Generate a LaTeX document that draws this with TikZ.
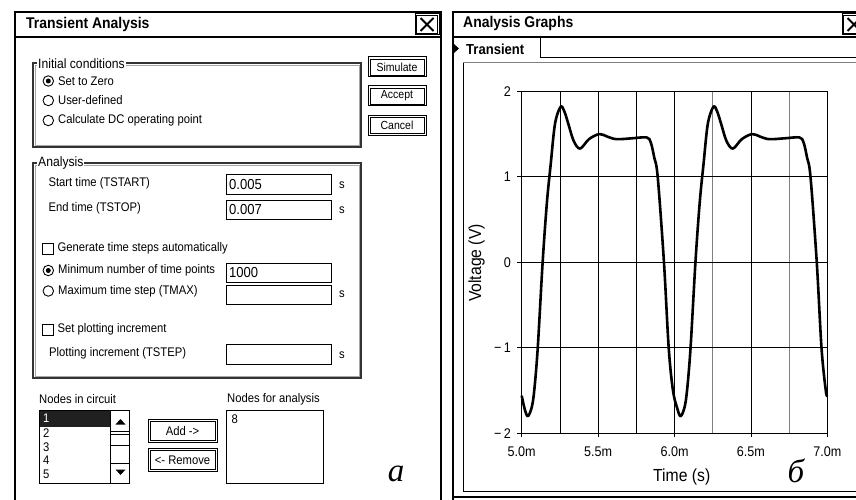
\documentclass[tikz,border=0pt]{standalone}
\usepackage{fontspec}
\setmainfont[FakeStretch=0.9]{Liberation Sans}
\newfontfamily\cyrserif{Liberation Serif}
\usetikzlibrary{positioning}

\begin{document}
\begin{tikzpicture}[x=1pt, y=-1pt]
\tikzset{
  txt/.style={inner sep=0pt, anchor=west, font=\fontsize{12.5}{14}\selectfont},
  valtxt/.style={inner sep=0pt, anchor=west, font=\fontsize{14.5}{16}\selectfont},
  grouptxt/.style={inner sep=1pt, anchor=west, fill=white, font=\fontsize{13.5}{15}\selectfont},
  titletxt/.style={inner sep=0pt, anchor=west, font=\fontsize{15.5}{17}\bfseries\selectfont},
  btn/.style={draw, line width=1pt, inner sep=0pt, font=\fontsize{11.7}{13}\selectfont},
  btninner/.style={line width=0.8pt},
  field/.style={draw, line width=1pt, anchor=north west, minimum width=105pt, minimum height=19.5pt, inner sep=0pt},
  radio/.style={draw, circle, line width=0.9pt, minimum size=10.5pt, inner sep=0pt},
  chk/.style={draw, line width=0.9pt, minimum size=11pt, inner sep=0pt},
  groupbox/.style={draw=gray!40!black, line width=1.1pt},
  groupinner/.style={draw=gray!70, line width=0.7pt},
  listbox/.style={draw, line width=1pt, anchor=north west, minimum height=73pt, inner sep=0pt},
  axtxt/.style={inner sep=0pt, font=\fontsize{14}{15}\selectfont},
  cyrtxt/.style={inner sep=0pt, font=\cyrserif\itshape\fontsize{33}{35}\selectfont}
}
\useasboundingbox (0,0) rectangle (856,500);
\clip (0,0) rectangle (856,500);

% Transient Analysis window
\draw[line width=2.2pt] (15,500) -- (15,12) -- (441,12) -- (441,500);
\draw[line width=1.8pt] (15,37) -- (441,37);
\node[titletxt] (ttitle) at (26,24) {Transient Analysis};
\node[btn, minimum width=24pt, minimum height=21pt] (tclose) at (427,24.5) {};
\draw[btninner] ([shift={(2,2)}]tclose.north west) rectangle ([shift={(-2,-2)}]tclose.south east);
\draw[line width=2pt] ([shift={(-6.5,-6.5)}]tclose.center) -- ([shift={(6.5,6.5)}]tclose.center)
  ([shift={(-6.5,6.5)}]tclose.center) -- ([shift={(6.5,-6.5)}]tclose.center);

\draw[groupbox] (33,63) rectangle (361,147);
\draw[groupinner] (35,65) rectangle (359,145);
\node[grouptxt] (initg) at (37,63.5) {Initial conditions};
\node[radio] (rzero) at (48.3,81) {};
\fill (rzero.center) circle (2.5pt);
\node[txt, right=4pt of rzero] (tzero) {Set to Zero};
\node[radio] (ruser) at (48.3,100.5) {};
\node[txt, right=4pt of ruser] (tuser) {User-defined};
\node[radio] (rdc) at (48.3,120.5) {};
\node[txt, right=4pt of rdc] (tdc) {Calculate DC operating point};

\foreach \nm/\yy/\lab in {bsim/67/Simulate, bacc/96/Accept, bcan/125.5/Cancel} {
  \node[btn, minimum width=58pt, minimum height=20pt] (\nm) at (397,\yy) {\lab};
  \draw[btninner] ([shift={(2.5,2.5)}]\nm.north west) rectangle ([shift={(-2.5,-2.5)}]\nm.south east);
}

\draw[groupbox] (33,163) rectangle (361,378);
\draw[groupinner] (35,165) rectangle (359,376);
\node[grouptxt] (anag) at (37,163.5) {Analysis};
\node[txt] (tstart) at (48.3,183.5) {Start time (TSTART)};
\node[field] (fstart) at (226,174) {};
\node[valtxt] at ([xshift=3pt]fstart.west) {0.005};
\node[txt] (sstart) at (339,185) {s};
\node[txt] (tstop) at (48.3,208) {End time (TSTOP)};
\node[field] (fstop) at (226,199.5) {};
\node[valtxt] at ([xshift=3pt]fstop.west) {0.007};
\node[txt] (sstop) at (339,210) {s};

\node[chk] (cgen) at (47.5,248.5) {};
\node[txt, right=4pt of cgen] (tgen) {Generate time steps automatically};
\node[radio] (rmin) at (48.3,270.5) {};
\fill (rmin.center) circle (2.5pt);
\node[txt, right=4pt of rmin] (tmin) {Minimum number of time points};
\node[field, minimum height=19pt] (fmin) at (226,262.7) {};
\node[valtxt] at ([xshift=3pt]fmin.west) {1000};
\node[radio] (rmax) at (48.3,291) {};
\node[txt, right=4pt of rmax] (tmax) {Maximum time step (TMAX)};
\node[field, minimum height=19pt] (fmax) at (226,285) {};
\node[txt] (smax) at (339,294) {s};

\node[chk] (cplot) at (47.5,329.5) {};
\node[txt, right=4pt of cplot] (tplot) {Set plotting increment};
\node[txt] (tstep) at (49,353.5) {Plotting increment (TSTEP)};
\node[field] (fstep) at (226,344) {};
\node[txt] (sstep) at (339,355) {s};

\node[txt] (tnodes) at (39,399) {Nodes in circuit};
\node[listbox, minimum width=90pt] (lnodes) at (39,410) {};
\fill[gray!25!black] (39.5,410.5) rectangle (110,427);
\draw[line width=1pt] (110,410) -- (110,483);
\foreach \yy in {431,434.3,445,462.7} \draw (110,\yy) -- (129,\yy);
\fill (115.5,424.5) -- (125.5,424.5) -- (120.5,419) -- cycle;
\fill (115.5,469.5) -- (125.5,469.5) -- (120.5,475) -- cycle;
\node[txt, text=white] (n1) at (43,418.5) {1};
\node[txt] (n2) at (43,432.7) {2};
\node[txt] (n3) at (43,446.7) {3};
\node[txt] (n4) at (43,460.3) {4};
\node[txt] (n5) at (43,474.3) {5};

\foreach \nm/\yy/\lab in {badd/431/{Add ->}, brem/460.3/{<- Remove}} {
  \node[btn, font=\fontsize{12.5}{14}\selectfont, minimum width=69pt, minimum height=23pt] (\nm) at (182.5,\yy) {\lab};
  \draw[btninner] ([shift={(2.5,2.5)}]\nm.north west) rectangle ([shift={(-2.5,-2.5)}]\nm.south east);
}

\node[txt] (tanal) at (227,399) {Nodes for analysis};
\node[listbox, minimum width=97pt] (lanal) at (226,410) {};
\node[txt] (n8) at (231.5,419) {8};

\node[cyrtxt] (laba) at (396,474) {а};

% Analysis Graphs window
\draw[line width=2pt] (453,500) -- (453,12) -- (870,12);
\draw[line width=1.8pt] (453,37) -- (856,37);
\node[titletxt] (gtitle) at (463,23.5) {Analysis Graphs};
\node[btn, minimum width=24pt, minimum height=21pt] (gclose) at (854,24.5) {};
\draw[btninner] ([shift={(2,2)}]gclose.north west) rectangle ([shift={(-2,-2)}]gclose.south east);
\draw[line width=2pt] ([shift={(-6.5,-6.5)}]gclose.center) -- ([shift={(6.5,6.5)}]gclose.center)
  ([shift={(-6.5,6.5)}]gclose.center) -- ([shift={(6.5,-6.5)}]gclose.center);
\fill (454,44) -- (459,48.5) -- (454,53) -- cycle;
\node[titletxt, font=\fontsize{14.5}{16}\bfseries\selectfont] (gtab) at (466,49) {Transient};
\draw[line width=0.8pt] (540,37) -- (540,57.5) -- (856,57.5);
\draw[line width=0.8pt, gray] (463,62.5) -- (856,62.5);
\draw[line width=0.8pt] (463,63.5) -- (463,491) -- (856,491);
\draw[line width=1.8pt] (453,497) -- (856,497);

\begin{scope}[xshift=521.7pt, yshift=-262.3pt, x=152.8pt, y=85.5pt]
\foreach \t in {0.25,0.5,0.75,1,1.5}
  \draw[line width=0.7pt] (\t,-2) -- (\t,2);
\foreach \t in {1.25,1.75}
  \draw[line width=0.9pt, gray] (\t,-2) -- (\t,2);
\foreach \v in {-1,0,1}
  \draw[line width=0.7pt] (0,\v) -- (2,\v);
\draw[line width=0.8pt] (0,-2) rectangle (2,2);
\foreach \v/\lab in {2/2,1/1,0/0,-1/{−\,1},-2/{−\,2}} {
  \draw[line width=0.8pt] (-0.03,\v) -- (0,\v);
  \node[axtxt, anchor=east] (ylab\v) at (-0.07,\v) {\lab};
}
\foreach \t/\lab in {0/5.0m,0.5/5.5m,1/6.0m,1.5/6.5m,2/7.0m} {
  \draw[line width=0.8pt] (\t,-2) -- (\t,-2.04);
  \node[axtxt] (xlab\t) at (\t,-2.22) {\lab};
}
\draw[line width=2.6pt, line join=round] plot[smooth, tension=0.55] coordinates {
  (0,-1.56) (0.02,-1.72) (0.04,-1.80) (0.065,-1.70) (0.082,-1.50) (0.105,-1.0)
  (0.137,0) (0.165,0.70) (0.19,1.15) (0.218,1.62) (0.255,1.82) (0.28,1.76)
  (0.305,1.62) (0.34,1.42) (0.382,1.33) (0.44,1.44) (0.508,1.50) (0.56,1.47)
  (0.62,1.44) (0.72,1.45) (0.818,1.46) (0.845,1.40) (0.868,1.22) (0.89,1.0)
  (0.931,0) (0.962,-1.0) (0.99,-1.5)
  (1.02,-1.72) (1.04,-1.80) (1.065,-1.70) (1.082,-1.50) (1.105,-1.0)
  (1.137,0) (1.165,0.70) (1.19,1.15) (1.218,1.62) (1.255,1.82) (1.28,1.76)
  (1.305,1.62) (1.34,1.42) (1.382,1.33) (1.44,1.44) (1.508,1.50) (1.56,1.47)
  (1.62,1.44) (1.72,1.45) (1.818,1.46) (1.845,1.40) (1.868,1.22) (1.89,1.0)
  (1.931,0) (1.962,-1.0) (1.99,-1.5) (2,-1.56)};
\end{scope}
\node[axtxt, font=\fontsize{17.5}{19}\selectfont, rotate=90] (vlab) at (476.7,263) {Voltage (V)};
\node[axtxt, font=\fontsize{17.5}{19}\selectfont] (tlab) at (681.7,477) {Time (s)};
\node[cyrtxt] (labb) at (796,471) {б};
\end{tikzpicture}
\end{document}
